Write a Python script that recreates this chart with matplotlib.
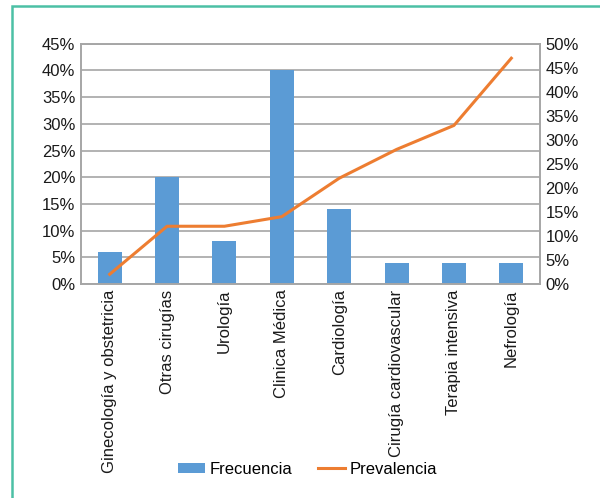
import matplotlib.pyplot as plt
from matplotlib.patches import Rectangle
from matplotlib.ticker import FuncFormatter
import numpy as np

plt.rcParams['font.family'] = ['Liberation Sans', 'DejaVu Sans']

categorias = ["Ginecología y obstetricia", "Otras cirugías", "Urología", "Clinica Médica",
              "Cardiología", "Cirugía cardiovascular", "Terapia intensiva", "Nefrología"]
frecuencia = [6, 20, 8, 40, 14, 4, 4, 4]
prevalencia = [2, 12, 12, 14, 22, 28, 33, 47]

fig = plt.figure(figsize=(6, 4.98), dpi=100)
ax = fig.add_axes([0.135, 0.43, 0.765, 0.482])
x = np.arange(len(categorias))

ax.bar(x, frecuencia, width=0.42, color="#5B9BD5", label="Frecuencia", zorder=2)
ax.set_ylim(0, 45)
ax.set_yticks(range(0, 46, 5))
ax.set_xlim(-0.5, len(categorias) - 0.5)
ax.yaxis.grid(True, color="#A6A6A6", linewidth=1.2, zorder=0)
ax.set_axisbelow(True)

ax2 = ax.twinx()
ax2.plot(x, prevalencia, color="#ED7D31", linewidth=2.2, label="Prevalencia")
ax2.set_ylim(0, 50)
ax2.set_yticks(range(0, 51, 5))

pct = FuncFormatter(lambda v, p: f"{v:.0f}%")
ax.yaxis.set_major_formatter(pct)
ax2.yaxis.set_major_formatter(pct)

ax.set_xticks(x)
ax.set_xticklabels(categorias, rotation=90, fontsize=12)
for a in (ax, ax2):
    a.tick_params(length=0, labelsize=12, colors="#1a1a1a", pad=4)
    for s in a.spines.values():
        s.set_color("#A6A6A6")
        s.set_linewidth(1.2)

h1, l1 = ax.get_legend_handles_labels()
h2, l2 = ax2.get_legend_handles_labels()
fig.legend(h1 + h2, l1 + l2, loc="center", bbox_to_anchor=(0.513, 0.058), ncol=2,
           frameon=False, fontsize=12, handlelength=1.6, handleheight=0.55,
           columnspacing=1.55, handletextpad=0.3)

# marco verde
fig.patches.append(Rectangle((12 / 600, -0.1), 1.2, (498 - 6) / 498 + 0.1, transform=fig.transFigure,
                             fill=False, edgecolor="#4CC0A5", linewidth=1.8, zorder=0))

fig.savefig("out.png", dpi=100)
